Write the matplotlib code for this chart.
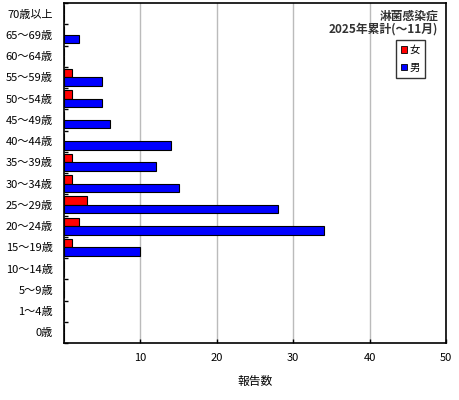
import matplotlib
matplotlib.use("Agg")
import matplotlib.pyplot as plt
import numpy as np
from matplotlib.patches import Patch

plt.rcParams['font.family'] = ['Noto Sans CJK JP', 'DejaVu Sans']

categories = ["0歳", "1～4歳", "5～9歳", "10～14歳", "15～19歳", "20～24歳", "25～29歳",
              "30～34歳", "35～39歳", "40～44歳", "45～49歳", "50～54歳", "55～59歳",
              "60～64歳", "65～69歳", "70歳以上"]
female = [0, 0, 0, 0, 1, 2, 3, 1, 1, 0, 0, 1, 1, 0, 0, 0]
male = [0, 0, 0, 0, 10, 34, 28, 15, 12, 14, 6, 5, 5, 0, 2, 0]
xticks = [10, 20, 30, 40, 50]
title_lines = ["淋菌感染症", "2025年累計(～11月)"]
legend_labels = ["女", "男"]
xlabel = "報告数"

fig = plt.figure(figsize=(4.6, 4.0), dpi=100)
ax = fig.add_axes([64/460, 1 - 343/400, (446-64)/460, (343-3)/400])

y = np.arange(len(categories))
h = 0.4
ax.barh(y + h/2, female, height=h, color="#FF0000", edgecolor="black", linewidth=0.8, zorder=3)
ax.barh(y - h/2, male, height=h, color="#0000FF", edgecolor="black", linewidth=0.8, zorder=3)

ax.set_xlim(0, 50)
ax.set_ylim(-0.5, len(categories) - 0.5)
ax.set_xticks(xticks)
ax.set_xticklabels([str(v) for v in xticks], fontsize=8)
ax.set_yticks(y)
ax.set_yticklabels(categories, fontsize=8)
ax.set_yticks(np.arange(len(categories) + 1) - 0.5, minor=True)
ax.tick_params(axis='y', which='major', length=0, pad=8)
ax.tick_params(axis='y', which='minor', length=3, direction='in', width=1)
ax.tick_params(axis='x', which='major', length=3, direction='in', width=1, pad=7)
ax.xaxis.grid(True, color="#BBBBBB", linewidth=1, zorder=0)
for s in ax.spines.values():
    s.set_linewidth(1.2)

ax.set_xlabel(xlabel, fontsize=8.5, labelpad=9)

fig.text(438/460, 1 - 16/400, title_lines[0], ha='right', va='center', fontsize=8.5, fontweight='bold', color='#333333')
fig.text(438/460, 1 - 29/400, title_lines[1], ha='right', va='center', fontsize=8.5, fontweight='bold', color='#333333')

handles = [Patch(facecolor="#FF0000", edgecolor="black", linewidth=0.6),
           Patch(facecolor="#0000FF", edgecolor="black", linewidth=0.6)]
leg = fig.legend(handles, legend_labels, loc='upper left', bbox_to_anchor=(396/460, 1 - 40/400),
                 fontsize=7.5, frameon=True, fancybox=False, edgecolor='black',
                 handlelength=0.6, handleheight=0.6, handletextpad=0.2, borderpad=0.5,
                 labelspacing=0.7, borderaxespad=0)
leg.get_frame().set_linewidth(1.0)

fig.savefig("out.png", dpi=100)
